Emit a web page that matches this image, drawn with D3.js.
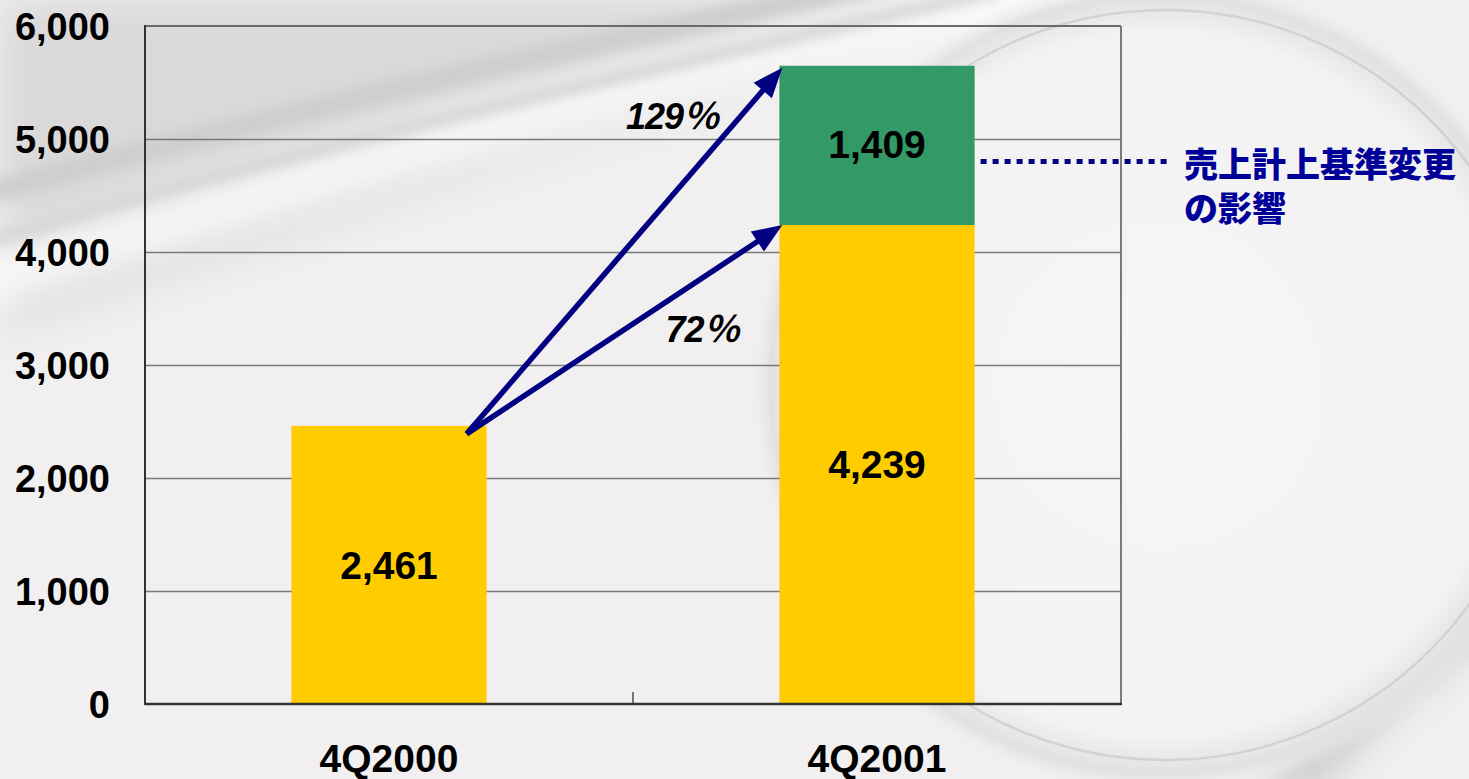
<!DOCTYPE html>
<html>
<head>
<meta charset="utf-8">
<script src="https://cdn.jsdelivr.net/npm/d3@7"></script>
<style>
  html, body { margin: 0; padding: 0; overflow: hidden; background: #f1efef; }
  svg { display: block; }
  text { font-family: "Liberation Sans", Arial, "Noto Sans CJK JP", sans-serif; font-weight: bold; }
</style>
</head>
<body>
<svg id="chart" width="1469" height="779"></svg>
<script>
/* ── data ─────────────────────────────────────────── */
const quarters = ["4Q2000", "4Q2001"];
const baseSales = [2461, 4239];      // yellow segment
const changeEffect = [0, 1409];      // green segment (売上計上基準変更の影響)
const yTicks = [0, 1000, 2000, 3000, 4000, 5000, 6000];
const growthLabels = ["129％", "72％"];
const noteLines = ["売上計上基準変更", "の影響"];

const W = 1469, H = 779;
const plot = { left: 145, right: 1121, top: 26, bottom: 704 };
const NAVY = "#000080";

const svg = d3.select("#chart");
const defs = svg.append("defs");

/* ── background (soft grey swooshes) ──────────────── */
defs.append("filter").attr("id", "blur20").attr("x", "-20%").attr("y", "-20%").attr("width", "140%").attr("height", "140%")
  .append("feGaussianBlur").attr("stdDeviation", 20);
defs.append("filter").attr("id", "blur6").attr("x", "-20%").attr("y", "-20%").attr("width", "140%").attr("height", "140%")
  .append("feGaussianBlur").attr("stdDeviation", 6);
const lens = defs.append("radialGradient").attr("id", "lens");
lens.append("stop").attr("offset", "0%").attr("stop-color", "#f7f6f6");
lens.append("stop").attr("offset", "86%").attr("stop-color", "#f3f2f2");
lens.append("stop").attr("offset", "95%").attr("stop-color", "#e2e0e0");
lens.append("stop").attr("offset", "100%").attr("stop-color", "#f0eeee").attr("stop-opacity", 0);

const bg = svg.append("g").attr("class", "bg");
bg.append("rect").attr("width", W).attr("height", H).attr("fill", "#f1efef");
bg.append("path").attr("d", "M0,0 L1000,0 L0,330 Z").attr("fill", "#dad8d8").attr("filter", "url(#blur20)");
bg.append("path").attr("d", "M-40,290 C300,180 700,60 1080,-10").attr("fill", "none")
  .attr("stroke", "#fbfbfb").attr("stroke-width", 50).attr("filter", "url(#blur20)");
bg.append("path").attr("d", "M-40,200 C250,120 600,40 900,-20").attr("fill", "none")
  .attr("stroke", "#cfcdcd").attr("stroke-width", 22).attr("filter", "url(#blur6)");
bg.append("path").attr("d", "M-40,250 C280,150 650,70 1000,-10").attr("fill", "none")
  .attr("stroke", "#d6d4d4").attr("stroke-width", 12).attr("filter", "url(#blur6)");
bg.append("path").attr("d", "M1280,800 C1350,720 1420,650 1500,600").attr("fill", "none")
  .attr("stroke", "#c9c7c7").attr("stroke-width", 40).attr("filter", "url(#blur20)");
bg.append("circle").attr("cx", 1160).attr("cy", 385).attr("r", 410).attr("fill", "url(#lens)");
bg.append("circle").attr("cx", 1165).attr("cy", 385).attr("r", 375).attr("fill", "none")
  .attr("stroke", "#cac8c8").attr("stroke-width", 2.5).attr("opacity", 0.7);

/* ── scales ───────────────────────────────────────── */
const x = d3.scaleBand().domain(quarters).range([plot.left, plot.right])
  .paddingInner(0.6).paddingOuter(0.3);
const y = d3.scaleLinear().domain([0, 6000]).range([plot.bottom, plot.top]);
const bw = x.bandwidth();

/* ── grid & frame ─────────────────────────────────── */
const g = svg.append("g");
g.selectAll("line.grid").data(yTicks.filter(d => d > 0 && d < 6000)).join("line")
  .attr("class", "grid")
  .attr("x1", plot.left).attr("x2", plot.right)
  .attr("y1", d => Math.round(y(d)) + 0.5).attr("y2", d => Math.round(y(d)) + 0.5)
  .attr("stroke", "#7a7a7a").attr("stroke-width", 1.3);
g.append("line").attr("x1", plot.left).attr("x2", plot.right).attr("y1", y(6000)).attr("y2", y(6000))
  .attr("stroke", "#6a6a6a").attr("stroke-width", 2);
g.append("line").attr("x1", plot.right).attr("x2", plot.right).attr("y1", y(6000)).attr("y2", y(0))
  .attr("stroke", "#7a7a7a").attr("stroke-width", 2);

/* ── bars ─────────────────────────────────────────── */
const rows = quarters.map((q, i) => ({ q, base: baseSales[i], extra: changeEffect[i] }));

g.selectAll("rect.base").data(rows).join("rect")
  .attr("class", "base")
  .attr("x", d => x(d.q)).attr("width", bw)
  .attr("y", d => y(d.base)).attr("height", d => y(0) - y(d.base))
  .attr("fill", "#ffcc00");
g.selectAll("rect.extra").data(rows.filter(d => d.extra > 0)).join("rect")
  .attr("class", "extra")
  .attr("x", d => x(d.q)).attr("width", bw)
  .attr("y", d => y(d.base + d.extra)).attr("height", d => y(d.base) - y(d.base + d.extra))
  .attr("fill", "#339966");

// axes lines drawn over bars
g.append("line").attr("x1", plot.left).attr("x2", plot.left).attr("y1", y(6000) - 1).attr("y2", y(0) + 1)
  .attr("stroke", "#333").attr("stroke-width", 2);
g.append("line").attr("x1", plot.left).attr("x2", plot.right + 1).attr("y1", y(0)).attr("y2", y(0))
  .attr("stroke", "#333").attr("stroke-width", 2.5);
// category divider tick
g.append("line").attr("x1", plot.left + x.step()).attr("x2", plot.left + x.step())
  .attr("y1", y(0) - 12).attr("y2", y(0)).attr("stroke", "#333").attr("stroke-width", 1.3);

/* ── value labels ─────────────────────────────────── */
const fmt = d3.format(",");
g.selectAll("text.vbase").data(rows).join("text")
  .attr("class", "vbase")
  .attr("x", d => x(d.q) + bw / 2).attr("y", d => (y(0) + y(d.base)) / 2 + 14)
  .attr("text-anchor", "middle").attr("font-size", 39).attr("fill", "#000")
  .text(d => fmt(d.base));
g.selectAll("text.vextra").data(rows.filter(d => d.extra > 0)).join("text")
  .attr("class", "vextra")
  .attr("x", d => x(d.q) + bw / 2).attr("y", d => (y(d.base) + y(d.base + d.extra)) / 2 + 13)
  .attr("text-anchor", "middle").attr("font-size", 39).attr("fill", "#000")
  .text(d => fmt(d.extra));

/* ── y axis labels ────────────────────────────────── */
g.selectAll("text.ytick").data(yTicks).join("text")
  .attr("class", "ytick")
  .attr("x", 110).attr("y", d => y(d) + 14)
  .attr("text-anchor", "end").attr("font-size", 38).attr("fill", "#000")
  .text(d => fmt(d));

/* ── x axis labels ────────────────────────────────── */
g.selectAll("text.xtick").data(quarters).join("text")
  .attr("class", "xtick")
  .attr("x", d => x(d) + bw / 2).attr("y", 772)
  .attr("text-anchor", "middle").attr("font-size", 39).attr("fill", "#000")
  .text(d => d);

/* ── growth arrows ────────────────────────────────── */
const start = [x(quarters[0]) + bw - 20, y(baseSales[0]) + 8];
const targets = [
  [x(quarters[1]) + 3, y(baseSales[1] + changeEffect[1]) + 2],
  [x(quarters[1]) + 3, y(baseSales[1])]
];
const headLen = 30, headHalf = 12;
targets.forEach(t => {
  const dx = t[0] - start[0], dy = t[1] - start[1];
  const len = Math.hypot(dx, dy), ux = dx / len, uy = dy / len;
  const bx = t[0] - ux * headLen, by = t[1] - uy * headLen;
  g.append("line").attr("x1", start[0]).attr("y1", start[1]).attr("x2", bx + ux * 2).attr("y2", by + uy * 2)
    .attr("stroke", NAVY).attr("stroke-width", 5.5);
  g.append("path")
    .attr("d", `M${t[0]},${t[1]}L${bx - uy * headHalf},${by + ux * headHalf}L${bx + uy * headHalf},${by - ux * headHalf}Z`)
    .attr("fill", NAVY);
});

const growthPos = [[672, 129], [702, 342]];
g.selectAll("text.growth").data(growthLabels).join("text")
  .attr("class", "growth")
  .attr("x", (d, i) => growthPos[i][0]).attr("y", (d, i) => growthPos[i][1])
  .attr("text-anchor", "middle").attr("font-size", 36).attr("font-style", "italic")
  .attr("fill", "#000").attr("letter-spacing", -1)
  .text(d => d);

/* ── note: 売上計上基準変更の影響 ─────────────────── */
const noteY = (y(baseSales[1]) + y(baseSales[1] + changeEffect[1])) / 2 + 16;
g.append("line")
  .attr("x1", x(quarters[1]) + bw + 6).attr("x2", 1172)
  .attr("y1", noteY).attr("y2", noteY)
  .attr("stroke", NAVY).attr("stroke-width", 5).attr("stroke-dasharray", "6,6");
const note = g.append("text")
  .attr("class", "note")
  .attr("x", 1184).attr("y", 177)
  .attr("font-size", 34).attr("fill", "#000099")
  .style("font-family", "'Noto Sans CJK JP', sans-serif").style("font-weight", 900);
note.selectAll("tspan").data(noteLines).join("tspan")
  .attr("x", 1184).attr("dy", (d, i) => i === 0 ? 0 : 44)
  .text(d => d);
</script>
</body>
</html>
